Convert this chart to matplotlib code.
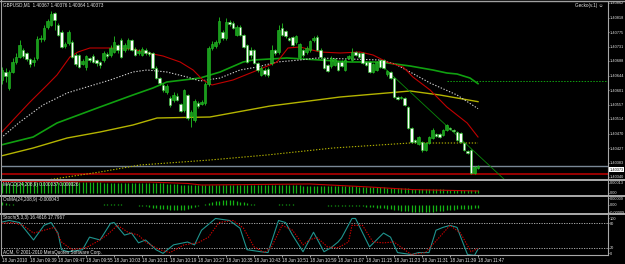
import numpy as np
import matplotlib
matplotlib.use('Agg')
import matplotlib.pyplot as plt
from matplotlib.lines import Line2D

plt.rcParams['font.family'] = ['Liberation Sans', 'DejaVu Sans']

W, H = 625, 264

# GBPUSD M1 candles, prices in points above 1.40000
open_pts = [631, 655, 607, 655, 685, 700, 721, 712, 694, 685,
            697, 754, 754, 790, 796, 832, 796, 775, 733, 742,
            745, 706, 706, 679, 670, 697, 703, 691, 685, 691,
            709, 706, 715, 736, 751, 721, 727, 751, 724, 712,
            706, 721, 715, 712, 667, 637, 616, 595, 577, 571,
            583, 559, 541, 586, 523, 511, 562, 559, 562, 619,
            727, 733, 745, 775, 757, 805, 802, 766, 790, 766,
            736, 721, 721, 682, 646, 661, 664, 682, 721, 715,
            787, 778, 757, 760, 745, 700, 721, 715, 721, 751,
            760, 721, 697, 676, 673, 676, 685, 685, 661, 697,
            691, 715, 712, 712, 685, 685, 655, 661, 691, 691,
            649, 655, 637, 580, 577, 577, 550, 487, 451, 439,
            445, 421, 442, 457, 469, 469, 466, 481, 487, 481,
            475, 472, 442, 418, 421, 352, 367]
close_pts = [661, 643, 655, 685, 700, 736, 703, 694, 679, 691,
             754, 757, 787, 808, 829, 811, 766, 730, 739, 775,
             700, 679, 670, 688, 703, 691, 685, 682, 676, 712,
             703, 727, 745, 721, 700, 736, 751, 721, 706, 718,
             724, 712, 709, 667, 637, 622, 601, 613, 556, 586,
             571, 538, 601, 517, 535, 568, 553, 565, 619, 727,
             739, 745, 808, 757, 805, 799, 787, 790, 766, 730,
             685, 706, 682, 661, 667, 649, 646, 721, 712, 781,
             766, 763, 751, 736, 763, 739, 706, 727, 748, 757,
             721, 700, 667, 658, 697, 694, 661, 673, 691, 703,
             715, 706, 700, 682, 676, 655, 679, 685, 670, 667,
             658, 637, 580, 574, 580, 556, 487, 445, 445, 460,
             421, 442, 460, 481, 463, 460, 481, 496, 484, 478,
             451, 445, 421, 412, 352, 370, 373]
high_pts = [670, 667, 661, 697, 712, 751, 727, 715, 697, 700,
            763, 766, 796, 814, 838, 835, 802, 781, 745, 781,
            751, 712, 709, 694, 706, 700, 709, 694, 688, 718,
            715, 736, 763, 739, 757, 742, 757, 754, 730, 724,
            730, 727, 718, 715, 673, 640, 622, 619, 583, 595,
            592, 562, 604, 589, 541, 574, 568, 571, 625, 733,
            748, 751, 820, 781, 817, 811, 808, 796, 796, 769,
            739, 730, 724, 685, 673, 667, 670, 736, 724, 796,
            802, 781, 760, 763, 766, 742, 724, 733, 751, 763,
            766, 727, 700, 679, 703, 697, 688, 691, 697, 706,
            727, 718, 715, 715, 688, 688, 682, 688, 694, 694,
            661, 658, 640, 583, 583, 580, 553, 490, 454, 463,
            448, 445, 463, 487, 472, 472, 484, 499, 490, 484,
            478, 475, 445, 421, 424, 373, 376]
low_pts = [619, 625, 601, 652, 679, 697, 697, 688, 670, 673,
           691, 745, 748, 784, 793, 781, 763, 727, 727, 736,
           697, 673, 667, 676, 661, 685, 682, 673, 667, 685,
           697, 700, 712, 712, 697, 715, 721, 718, 703, 706,
           703, 706, 703, 664, 634, 616, 595, 589, 550, 565,
           568, 535, 535, 511, 490, 505, 547, 556, 556, 613,
           721, 727, 739, 751, 751, 793, 784, 763, 763, 727,
           682, 697, 679, 655, 643, 643, 640, 676, 706, 709,
           763, 757, 748, 733, 739, 697, 700, 709, 715, 745,
           718, 697, 664, 655, 667, 673, 658, 670, 658, 694,
           688, 703, 697, 679, 673, 652, 652, 658, 667, 664,
           643, 634, 577, 571, 574, 553, 484, 442, 442, 436,
           415, 418, 439, 454, 460, 457, 463, 478, 481, 475,
           448, 442, 418, 409, 349, 349, 364]

# moving averages (bar index, points)
ma_red_idx = [-0.3, 3.7, 8, 12.9, 15.7, 19.4, 21.7, 25.1, 30.9, 37.4, 41.7, 46, 50.9, 54.6, 57.4, 60,
              66, 71.7, 78.6, 81.7, 85.1, 90.9, 96.6, 102.3, 106, 110, 114.6, 117.4, 122.3, 127.1, 132.9, 136]
ma_red_pts = [472, 517, 565, 616, 646, 700, 715, 727, 727, 724, 712, 703, 685, 661, 631, 616,
              631, 655, 685, 727, 730, 715, 712, 715, 706, 685, 670, 640, 601, 550, 502, 460]
ma_white_idx = [-0.3, 5.1, 11.7, 18.6, 22.3, 30.9, 37.4, 41.4, 44.3, 47.1, 52.9, 56.6, 62.3, 68, 72.9,
                78.6, 85.1, 90, 99.4, 108, 112.3, 116.6, 122.3, 130, 136]
ma_white_pts = [457, 505, 556, 592, 604, 631, 655, 661, 658, 655, 640, 628, 637, 661, 670,
                685, 691, 697, 694, 691, 679, 655, 622, 586, 545]
ma_green_idx = [-0.3, 8.9, 15.7, 28, 37.4, 43.1, 47.1, 56.6, 62.3, 68.9, 71.7, 81.4, 90.9, 99.4,
                108, 116.6, 123.1, 127.1, 130, 133.7, 136]
ma_green_pts = [436, 460, 502, 550, 586, 607, 625, 637, 655, 685, 691, 697, 691, 685,
                685, 673, 661, 652, 649, 637, 620]
ma_yellow_idx = [-0.3, 8.9, 18.6, 28, 37.4, 44.3, 59.4, 76.6, 96.6, 116.6, 125.1, 136]
ma_yellow_pts = [403, 427, 457, 475, 496, 517, 520, 553, 580, 598, 586, 566]
ma_ydot_idx = [-0.3, 12.9, 28, 39.4, 59.4, 75.7, 94.6, 116.6, 136]
ma_ydot_pts = [301, 331, 355, 376, 391, 406, 427, 442, 442]

bid_pts = 373
red_level_pts = 349
green_level_pts = 628
green_level_from = 127
trend_idx = [107.4, 143.7]
trend_pts = [685, 331]

price_ticks = [862, 818, 775, 731, 688, 644, 601, 557, 514, 470, 427, 383, 340]

# MACD(24,208,9) and OsMA, in points
macd_hist = [13.1, 13.3, 13.4, 13.6, 13.8, 13.9, 14.0, 14.0, 14.1, 14.2,
             14.2, 14.3, 14.4, 14.4, 14.5, 14.5, 14.4, 14.3, 14.3, 14.2,
             14.1, 14.0, 14.0, 13.9, 13.9, 13.8, 13.8, 13.7, 13.7, 13.6,
             13.6, 13.6, 13.5, 13.5, 13.4, 13.4, 13.3, 13.3, 13.2, 13.2,
             13.1, 13.1, 13.0, 12.9, 12.8, 12.6, 12.4, 12.1, 11.8,
             11.5, 11.2, 10.9, 10.7, 10.4, 10.2, 10.0, 9.9, 9.8, 9.8, 9.9, 10.1,
             10.3, 10.4, 10.5, 10.5, 10.6, 10.6, 10.5, 10.4, 10.3, 10.2,
             10.2, 10.1, 10.0, 10.0, 9.9, 9.9, 10.0, 10.1, 10.2, 10.2,
             10.1, 10.0, 9.9, 9.8, 9.8, 9.7, 9.7, 9.6,
             9.5, 9.4, 9.3, 9.3, 9.2, 9.1, 9.0, 8.9, 8.8, 8.7,
             8.7, 8.6, 8.5, 8.4, 8.3, 8.2, 8.1, 7.9, 7.7, 7.5,
             7.3, 7.1, 6.9, 6.7, 6.5, 6.3, 6.1, 5.9, 5.7, 5.5,
             5.3, 5.2, 5.1, 5.0, 4.9, 4.8, 4.7, 4.6, 4.5, 4.4,
             4.3, 4.3, 4.2, 4.1, 4.0, 3.9, 3.8, 3.7]
macd_sig_idx = [0, 42, 53, 57, 71, 88, 105, 117, 126, 136]
macd_sig_pts = [15.0, 14.3, 12.4, 10.4, 11.0, 11.7, 7.8, 4.5, 3.6, 2.6]

osma = [3.5, 2.5, 1.5, 1.0, 0.6, 0.4, 0.3, 0.2, 0.2, 0.1, 0, 0, -0.2, -0.3, -0.3, -0.2,
        -0.1, 0, 0.2, 0.4, 0.5, 0.6, 0.6, 0.5, 0.4, 0.3, 0.3, 0.4, 0.6, 0.8, 1.0, 1.2,
        1.2, 1.1, 0.9, 0.6, 0.3, 0, -0.4, -0.8,
        -1.3, -1.9, -2.6, -3.3, -4.0, -4.7, -5.3, -5.8, -6.2, -6.5, -6.6, -6.4, -5.9,
        -5.0, -3.8, -2.4, -1.0,
        0.4, 1.6, 2.8, 3.9, 4.8, 5.6, 6.2, 6.5, 6.4, 6.0, 5.3, 4.4, 3.4, 2.4, 1.5,
        0.8, 0.3, 0, -0.2, -0.2, 0, 0.3, 0.7, 1.0, 1.2, 1.1, 0.8, 0.4, 0, -0.3, -0.5,
        -0.5, -0.4, -0.3, -0.4,
        -0.6, -0.9, -1.1, -1.3, -1.4, -1.4, -1.3, -1.2, -1.2, -1.3, -1.5, -1.8, -2.1,
        -2.5, -2.9,
        -3.4, -3.9, -4.5, -5.1, -5.7, -6.3, -6.9, -7.4, -7.9, -8.3, -8.7, -9.0, -9.1,
        -9.1, -9.0, -8.8, -8.5, -8.2, -7.8, -7.4, -7.0, -6.6, -6.2, -5.8, -5.5, -5.2,
        -4.9, -4.6, -4.4, -4.3]

# Stochastic(5,3,3)
stoch_main_idx = [0, 2, 5, 9, 12, 14, 16, 17, 19, 23, 25, 28, 31, 32, 35, 37, 39, 41, 44, 46,
                  49, 53, 55, 57, 61, 65, 68, 70, 74, 76, 79, 81, 83, 86, 89, 92, 94, 96, 97, 100,
                  101, 105, 109, 111, 113, 117, 119, 122, 124, 126, 128, 130, 133, 135, 136]
stoch_main = [83, 87, 82, 39, 75, 82, 56, 15, 10, 15, 46, 39, 80, 82, 51, 56, 32, 39, 15, 6,
              27, 34, 27, 63, 92, 87, 68, 15, 10, 8, 87, 82, 51, 10, 58, 10, 20, 34, 44, 92,
              92, 22, 56, 46, 8, 3, 8, 8, 63, 70, 75, 70, 3, 1, 16.46]
stoch_sig_idx = [0, 3, 6, 9, 12, 15, 17, 20, 24, 27, 30, 33, 36, 39, 41, 45, 48, 52, 56, 59,
                 62, 66, 69, 72, 75, 77, 80, 83, 86, 88, 90, 93, 96, 99, 100, 103, 106, 109, 112, 115,
                 117, 121, 125, 128, 131, 134, 136]
stoch_sig = [80, 82, 75, 56, 63, 70, 34, 15, 20, 34, 51, 75, 58, 51, 34, 15, 8, 27, 32, 46,
             82, 87, 68, 22, 8, 22, 75, 63, 27, 40, 45, 22, 20, 34, 75, 75, 34, 32, 34, 15,
             3, 8, 46, 75, 56, 10, 17.80]

time_ticks = list(range(0, 137, 8))
time_labels = ['18 Jun 2010', '18 Jun 09:39', '18 Jun 09:47', '18 Jun 09:55', '18 Jun 10:03',
               '18 Jun 10:11', '18 Jun 10:19', '18 Jun 10:27', '18 Jun 10:35', '18 Jun 10:43',
               '18 Jun 10:51', '18 Jun 10:59', '18 Jun 11:07', '18 Jun 11:15', '18 Jun 11:23',
               '18 Jun 11:31', '18 Jun 11:39', '18 Jun 11:47']

FS = 3.3      # chart texts
FSR = 2.75    # right scale
TXT = '#e6e6e6'
EDGE = '#22c422'


def price(p):
    return 1.4 + np.asarray(p, dtype=float) / 1e5


def rect(left, top, right, bottom):
    return [left / W, 1 - bottom / H, (right - left) / W, (bottom - top) / H]


def fx(x):
    return x / W


def fy(y):
    return 1 - y / H


fig = plt.figure(figsize=(W / 100, H / 100), dpi=100, facecolor='black')
ax = fig.add_axes(rect(1, 2, 608, 179))
ax_macd = fig.add_axes(rect(1, 181, 608, 195))
ax_osma = fig.add_axes(rect(1, 197, 608, 213))
ax_st = fig.add_axes(rect(1, 215, 608, 255))

for a in (ax, ax_macd, ax_osma, ax_st):
    a.set_facecolor('black')
    a.set_xlim(-0.29, 173.14)
    for s in a.spines.values():
        s.set_visible(False)
    a.spines['right'].set_visible(True)
    a.spines['right'].set_color('#a8a8a8')
    a.spines['right'].set_linewidth(0.8)
    a.yaxis.tick_right()
    a.tick_params(axis='x', bottom=False, labelbottom=False)
    a.tick_params(axis='y', colors=TXT, labelsize=FSR, length=1.0, width=0.5, pad=0.4)

# --- main chart
x = np.arange(len(open_pts))
o, c = price(open_pts), price(close_pts)
hi, lo = price(high_pts), price(low_pts)
up = c >= o
ax.vlines(x, lo, hi, color=EDGE, lw=0.6, zorder=3)
ax.bar(x[up], (c - o)[up], bottom=o[up], width=0.72, color='#1a9a1d', edgecolor=EDGE, lw=0.4, zorder=4)
ax.bar(x[~up], (o - c)[~up], bottom=c[~up], width=0.72, color='white', edgecolor=EDGE, lw=0.4, zorder=4)

ax.plot(ma_yellow_idx, price(ma_yellow_pts), color='#b4b400', lw=1.0, zorder=2)
ax.plot(ma_ydot_idx, price(ma_ydot_pts), color='#b4b400', lw=0.8, ls=(0, (1.2, 1.5)), zorder=2)
ax.plot(ma_green_idx, price(ma_green_pts), color='#10a010', lw=1.2, zorder=2)
ax.plot(ma_white_idx, price(ma_white_pts), color='#cfcfcf', lw=0.8, ls=(0, (1.2, 1.5)), zorder=2)
ax.plot(ma_red_idx, price(ma_red_pts), color='#c00000', lw=0.8, zorder=2)
ax.plot(trend_idx, price(trend_pts), color='#0a8a0a', lw=0.6, zorder=2)

ax.axhline(price(bid_pts), color='#7a8896', lw=1.0, zorder=1)
ax.axhline(price(red_level_pts), color='#b40000', lw=1.2, zorder=1)
ax.hlines(price(green_level_pts), green_level_from, 173.14, color='#10a010', lw=0.7, ls=(0, (1.5, 1.5)))

ax.set_ylim(price(334), price(865))
ax.set_yticks(price(price_ticks))
ax.set_yticklabels(['%.5f' % v for v in price(price_ticks)])
# bid box sits just under the bid line on the scale
ax.annotate('%.5f' % price(bid_pts), xy=(1.0, price(bid_pts)), xycoords=ax.get_yaxis_transform(),
            xytext=(1.2, -2.6), textcoords='offset points',
            fontsize=FSR, color='black', va='center', ha='left',
            bbox=dict(boxstyle='square,pad=0.12', fc='white', ec='none'))

fig.text(fx(3), fy(5), 'GBPUSD,M1  %.5f %.5f %.5f %.5f' % (o[-1], hi[-1], lo[-1], c[-1]),
         fontsize=FS, color=TXT, va='center')
fig.text(fx(603), fy(5), 'Gecko(v.1) \u263a', fontsize=FS, color=TXT, va='center', ha='right')

# --- MACD
ax_macd.vlines(x, 0, macd_hist, color='#14b414', lw=0.9)
ax_macd.plot(macd_sig_idx, macd_sig_pts, color='#c00000', lw=0.8)
ax_macd.set_ylim(-2.6, 15.6)
ax_macd.set_yticks([13.0, 0])
ax_macd.set_yticklabels(['0.00013', '0.00'])
fig.text(fx(3), fy(184.5), 'MACD(24,208,9) 0.000037 0.000026', fontsize=FS, color=TXT, va='center')

# --- OsMA
ax_osma.vlines(x, 0, osma, color='#14b414', lw=0.9)
ax_osma.set_ylim(-10.4, 10.4)
ax_osma.set_yticks([9.1, 0, -9.2])
ax_osma.set_yticklabels(['0.00009', '0.00', '-0.00009'])
fig.text(fx(3), fy(200), 'OsMA(24,208,9) -0.000043', fontsize=FS, color=TXT, va='center')

# --- Stochastic
ax_st.axhline(80, color='#bdbdbd', lw=0.6, ls=(0, (1.5, 1.5)))
ax_st.axhline(20, color='#bdbdbd', lw=0.6, ls=(0, (1.5, 1.5)))
ax_st.plot(stoch_main_idx, stoch_main, color='#1f948e', lw=0.8)
ax_st.plot(stoch_sig_idx, stoch_sig, color='#d00000', lw=0.8, ls=(0, (1.2, 1.2)))
ax_st.set_ylim(2, 100.5)
ax_st.set_yticks([92.5, 80, 20, 6])
ax_st.set_yticklabels(['100', '80', '20', '0'])
ax_st.spines['bottom'].set_visible(True)
ax_st.spines['bottom'].set_color('#a8a8a8')
ax_st.spines['bottom'].set_linewidth(0.8)
ax_st.set_xticks(time_ticks)
ax_st.set_xticklabels(time_labels, ha='left')
ax_st.tick_params(axis='x', bottom=True, labelbottom=True, colors=TXT, labelsize=FS,
                  length=1.5, width=0.5, pad=0.8)
fig.text(fx(3), fy(218), 'Stoch(5,3,3) 16.4616 17.7967', fontsize=FS, color=TXT, va='center')
fig.text(fx(3), fy(252), 'ACM, \u00a9 2001-2010 MetaQuotes Software Corp.', fontsize=FS, color=TXT, va='center')

# window frame and panel separators
for yy in (180, 196, 214):
    fig.add_artist(Line2D([0, 1], [fy(yy), fy(yy)], color='#b8b8b8', lw=1.3))
fig.add_artist(Line2D([0, 1], [fy(0.5), fy(0.5)], color='#a0a0a0', lw=1.0))
fig.add_artist(Line2D([fx(0.7), fx(0.7)], [fy(0), fy(255)], color='#a0a0a0', lw=0.8))

fig.savefig('out.png', dpi=100, facecolor='black')
